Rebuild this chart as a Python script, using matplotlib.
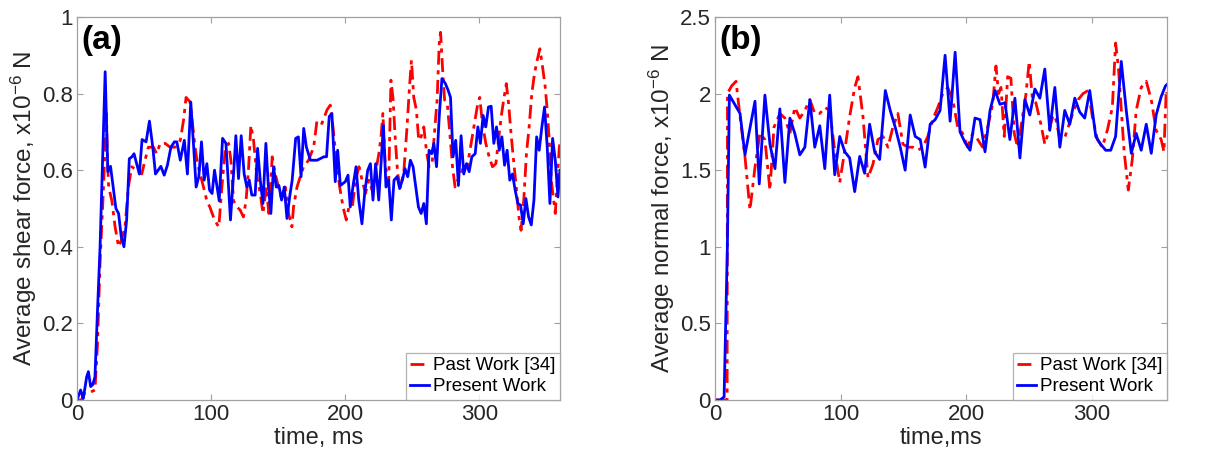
import matplotlib
matplotlib.use("Agg")
import matplotlib.pyplot as plt
from matplotlib.ticker import FuncFormatter

# ---------------------------------------------------------------------------
# data (time in ms, force in 1e-6 N)
# ---------------------------------------------------------------------------

# (a) shear force, present work
t_shear_present = [0, 2.7, 4.7, 7.2, 8.5, 10.2, 11.7, 13.4, 15.2, 17.2, 21, 23, 25, 27, 29,
                   31, 33, 35, 37, 39, 41, 42.5, 44.5, 46.5, 48.5, 51.5, 54, 56.5, 58.5, 60.5,
                   62.5, 65, 67.4, 70, 72.6, 74.4, 77, 80, 82.3, 84.8, 86.8, 88.8, 90.8, 92.8,
                   94.8, 96.8, 98.8, 100.7, 102.5, 104, 106, 108.5, 111, 112.4, 114.4, 116.7,
                   118.4, 120.4, 122.4, 124.6, 126.6, 128.4, 130.3, 132.8, 134.6, 136.6, 138.6,
                   140.8, 142.5, 144.5, 146.5, 148.5, 150.5, 152.5, 154.5, 156.5, 158.5, 160.4,
                   163, 165, 167, 169, 171, 174, 179, 184, 186, 188, 190, 192.5, 194.3, 196.3,
                   200, 202, 203.7, 206, 208, 210, 212.4, 214.4, 216.7, 218.7, 220.6, 222.6,
                   224.9, 226.6, 228.4, 230.3, 232.3, 234.3, 236.3, 238.6, 240.5, 242.5, 244.5,
                   246.5, 248.5, 250.5, 252.5, 254.5, 256.5, 258.5, 260.4, 262.4, 264.4, 266,
                   268, 270, 272, 274.6, 276.6, 278.4, 280.3, 282.3, 284.3, 286.3, 288.3, 290.3,
                   292.3, 294.3, 296.8, 298.8, 300.7, 302.7, 304.7, 306.7, 308.7, 310.7, 312.7,
                   314.7, 316.7, 318.7, 320.6, 322.6, 324.6, 326.6, 328.6, 330.6, 332.6, 334.6,
                   336.6, 338.6, 340.6, 342.6, 344.5, 346.5, 348.5, 350.5, 352.5, 354.5, 356.5,
                   358.5, 360]
f_shear_present = [0, 0.026, 0.004, 0.06, 0.074, 0.035, 0.04, 0.06, 0.226, 0.4, 0.857, 0.596,
                   0.61, 0.556, 0.5, 0.487, 0.426, 0.4, 0.47, 0.63, 0.635, 0.643, 0.617, 0.59,
                   0.68, 0.674, 0.728, 0.66, 0.59, 0.6, 0.61, 0.587, 0.613, 0.66, 0.674, 0.674,
                   0.626, 0.678, 0.59, 0.778, 0.67, 0.556, 0.583, 0.674, 0.574, 0.617, 0.548,
                   0.539, 0.6, 0.565, 0.52, 0.683, 0.67, 0.59, 0.47, 0.59, 0.69, 0.578, 0.69,
                   0.59, 0.556, 0.574, 0.535, 0.535, 0.657, 0.574, 0.513, 0.67, 0.565, 0.487,
                   0.609, 0.556, 0.56, 0.522, 0.556, 0.474, 0.53, 0.574, 0.683, 0.687, 0.583,
                   0.709, 0.66, 0.626, 0.626, 0.635, 0.635, 0.74, 0.748, 0.57, 0.652, 0.56,
                   0.57, 0.587, 0.504, 0.565, 0.609, 0.522, 0.46, 0.539, 0.6, 0.617, 0.522,
                   0.617, 0.522, 0.617, 0.717, 0.556, 0.574, 0.47, 0.574, 0.583, 0.552, 0.574,
                   0.604, 0.583, 0.626, 0.609, 0.556, 0.504, 0.487, 0.513, 0.46, 0.652, 0.643,
                   0.67, 0.609, 0.74, 0.839, 0.826, 0.809, 0.79, 0.635, 0.678, 0.56, 0.69, 0.59,
                   0.617, 0.596, 0.635, 0.643, 0.713, 0.67, 0.743, 0.713, 0.765, 0.767, 0.67,
                   0.713, 0.652, 0.687, 0.613, 0.652, 0.574, 0.59, 0.548, 0.513, 0.509, 0.46,
                   0.526, 0.478, 0.457, 0.522, 0.687, 0.652, 0.713, 0.765, 0.66, 0.513, 0.683,
                   0.626, 0.53, 0.6]

# (a) shear force, past work [34]
t_shear_past = [0, 3.5, 4.7, 7.2, 9.7, 13.4, 15.2, 17.2, 19.3, 22, 22.5, 23.6, 26, 28.4, 31,
                33, 35.8, 38.3, 40.8, 44.5, 48.3, 50.7, 53.2, 57, 59.4, 62, 65.7, 69.4, 73, 77,
                79.4, 81.3, 84.3, 86.3, 88, 89.8, 91.8, 94.3, 96.8, 99, 101.7, 104.2, 105.7,
                108, 110.4, 113, 114.7, 116.7, 119.2, 121.6, 124, 126, 127.8, 129.6, 131.6,
                134.1, 136.6, 138.6, 141.1, 143, 145.5, 147.8, 150.2, 152.7, 155.2, 157.7,
                160.2, 161.4, 164, 166.4, 168.9, 172.6, 176.4, 178.9, 182.6, 186.3, 188.8,
                190.8, 193.3, 195.8, 198.3, 200.7, 202.7, 205.2, 207.7, 210.2, 212.5, 215,
                217.5, 220, 222.4, 225, 226.6, 228, 229.8, 232.3, 234, 235.5, 237.3, 239,
                241, 243.5, 246, 248, 249.3, 251, 253, 254.7, 256.5, 258.5, 260.4, 262.4,
                264.7, 266.4, 268.4, 270.1, 271, 272.4, 274, 276, 277.9, 279.9, 281.8, 283.8,
                285.8, 288.3, 290.8, 293.3, 295.8, 298.3, 300.2, 302.2, 304.7, 307.2, 309.7,
                312.2, 314.2, 316.2, 318, 320, 321.7, 323.5, 325.4, 327.4, 329.4, 331, 333,
                335, 337, 339, 341, 343, 345, 347, 349, 350.5, 352, 353.5, 355, 356.5, 358,
                359.5, 360]
f_shear_past = [0, 0.0, 0.017, 0.017, 0.02, 0.026, 0.14, 0.36, 0.52, 0.748, 0.65, 0.556, 0.52,
                0.452, 0.4, 0.417, 0.452, 0.556, 0.609, 0.6, 0.59, 0.626, 0.66, 0.66, 0.643,
                0.67, 0.67, 0.66, 0.66, 0.678, 0.73, 0.79, 0.778, 0.713, 0.66, 0.617, 0.59,
                0.556, 0.52, 0.504, 0.478, 0.46, 0.452, 0.556, 0.652, 0.67, 0.626, 0.52, 0.504,
                0.496, 0.478, 0.52, 0.6, 0.717, 0.678, 0.583, 0.539, 0.487, 0.556, 0.487,
                0.635, 0.59, 0.556, 0.522, 0.556, 0.487, 0.452, 0.504, 0.556, 0.583, 0.609,
                0.626, 0.66, 0.73, 0.722, 0.757, 0.77, 0.713, 0.626, 0.556, 0.504, 0.47, 0.504,
                0.504, 0.574, 0.609, 0.574, 0.539, 0.574, 0.548, 0.591, 0.643, 0.687, 0.748,
                0.609, 0.565, 0.835, 0.79, 0.678, 0.591, 0.556, 0.591, 0.713, 0.826, 0.887,
                0.79, 0.757, 0.678, 0.687, 0.713, 0.652, 0.609, 0.617, 0.696, 0.783, 0.939,
                0.96, 0.87, 0.783, 0.774, 0.696, 0.609, 0.556, 0.574, 0.59, 0.609, 0.609,
                0.66, 0.713, 0.765, 0.79, 0.722, 0.67, 0.635, 0.609, 0.617, 0.678, 0.74,
                0.783, 0.826, 0.774, 0.696, 0.626, 0.556, 0.478, 0.443, 0.522, 0.643, 0.713,
                0.8, 0.852, 0.887, 0.917, 0.87, 0.817, 0.757, 0.678, 0.574, 0.53, 0.487,
                0.574, 0.66, 0.67]

# (b) normal force, present work
t_normal_present = [0, 4, 7.2, 9.8, 11.4, 19.9, 23.8, 31.8, 35.2, 39.7, 43.7, 47.7, 51.6, 55.6,
                    59.6, 63.5, 67.5, 71.5, 75.5, 79.4, 83.4, 87.4, 91.3, 95.3, 99.3, 103.3,
                    107.2, 111.2, 115.2, 119.1, 123.1, 127.1, 131.1, 135.6, 139.5, 143.5, 147.5,
                    151.4, 155.4, 159.4, 163.4, 167.3, 171.3, 175.3, 179.2, 183.2, 187.2, 191.2,
                    195.1, 199.1, 203.1, 207, 211, 215, 219, 223, 226.9, 230.9, 234.8, 238.8,
                    242.8, 246.8, 250.7, 254.7, 258.7, 262.6, 266.6, 270.6, 274.6, 278.5, 282.5,
                    286.5, 290.4, 294.4, 298.4, 303.2, 307.1, 311.1, 315.1, 319, 323.5, 327.5,
                    331.5, 335.4, 339.4, 343.4, 347.4, 351.3, 355.3, 358.7, 360]
f_normal_present = [0, 0, 0.02, 1.0, 1.99, 1.87, 1.60, 1.95, 1.41, 1.99, 1.67, 1.51, 1.90, 1.42,
                    1.84, 1.74, 1.60, 1.65, 1.96, 1.65, 1.79, 1.51, 1.99, 1.47, 1.72, 1.62,
                    1.58, 1.36, 1.59, 1.48, 1.80, 1.62, 1.57, 2.02, 1.89, 1.78, 1.65, 1.50,
                    1.86, 1.72, 1.70, 1.52, 1.80, 1.83, 1.89, 2.25, 1.82, 2.27, 1.75, 1.68,
                    1.63, 1.84, 1.83, 1.62, 1.89, 2.02, 1.93, 1.94, 1.70, 1.97, 1.58, 1.96,
                    1.86, 2.03, 1.97, 2.16, 1.76, 2.04, 1.65, 1.89, 1.80, 1.97, 1.88, 1.84,
                    2.02, 1.72, 1.67, 1.63, 1.63, 1.72, 2.21, 1.89, 1.61, 1.74, 1.63, 1.80,
                    1.61, 1.86, 1.98, 2.05, 2.06]

# (b) normal force, past work [34]
t_normal_past = [0, 9.6, 9.9, 13.2, 16.7, 19.9, 23.8, 27.8, 31.8, 35.7, 39.7, 43.7, 46.9, 51.6,
                 55.6, 59.6, 63.5, 67.5, 71.5, 75.5, 79.4, 83.4, 87.4, 91.3, 95.3, 99.3, 103.3,
                 107.2, 111.2, 113.8, 117.8, 121.8, 125.8, 129.7, 133.7, 137.7, 141.6, 145.6,
                 149.6, 153.6, 157.5, 161.5, 165.5, 169.4, 173.4, 177.4, 181.4, 185.3, 189.3,
                 193.3, 197.2, 201.2, 205.2, 209.2, 213.1, 217.1, 221.1, 223.7, 225.8, 227.7,
                 230.3, 233, 235.6, 238.3, 240.9, 243.6, 247.5, 250.2, 252.8, 255.5, 259.5,
                 262.6, 266, 269.3, 271.5, 274.6, 278, 281.2, 285.2, 289.1, 293.1, 297.1,
                 300.5, 304.5, 308.4, 312.4, 316.4, 319, 321.2, 323, 325.7, 329.1, 332.3,
                 335.4, 339.4, 343.4, 347.4, 351.3, 355.3, 357.5, 359.3, 360]
f_normal_past = [0, 0, 2.0, 2.05, 2.08, 1.85, 1.59, 1.24, 1.52, 1.74, 1.70, 1.37, 1.78, 1.87,
                 1.84, 1.74, 1.91, 1.84, 1.89, 1.96, 1.87, 1.87, 1.91, 1.89, 1.63, 1.42, 1.63,
                 1.85, 2.04, 2.11, 1.85, 1.45, 1.54, 1.70, 1.72, 1.65, 1.78, 1.87, 1.67, 1.65,
                 1.65, 1.63, 1.65, 1.72, 1.83, 1.91, 2.0, 2.04, 1.96, 1.78, 1.74, 1.65, 1.74,
                 1.70, 1.65, 1.78, 1.93, 2.18, 2.0, 2.04, 1.72, 2.11, 2.10, 1.74, 1.65, 1.78,
                 1.99, 2.21, 1.96, 1.94, 1.80, 1.67, 1.76, 1.86, 1.83, 1.70, 1.70, 1.78, 1.88,
                 1.96, 2.0, 2.02, 1.85, 1.70, 1.65, 1.76, 1.91, 2.33, 2.17, 1.96, 1.63, 1.37,
                 1.57, 1.89, 2.04, 2.08, 1.96, 1.76, 1.70, 1.62, 2.02, 2.0]

legend_labels = ["Past Work [34]", "Present Work"]

# ---------------------------------------------------------------------------

plt.rcParams["font.family"] = ["Liberation Sans", "DejaVu Sans"]
plt.rcParams["mathtext.fontset"] = "custom"
plt.rcParams["mathtext.rm"] = "Liberation Sans"
plt.rcParams["mathtext.it"] = "Liberation Sans:italic"
plt.rcParams["mathtext.bf"] = "Liberation Sans:bold"

TEXT = "#262626"
EDGE = "#a0a0a0"


def _style(ax, xlim, ylim, yticks):
    ax.set_xlim(*xlim)
    ax.set_ylim(*ylim)
    ax.set_xticks([0, 100, 200, 300])
    ax.set_yticks(yticks)
    ax.yaxis.set_major_formatter(FuncFormatter(lambda v, p: f"{v:g}"))
    ax.tick_params(direction="in", top=True, right=True, length=4, width=0.8,
                   color=EDGE, labelcolor=TEXT, labelsize=16, pad=3)
    for s in ax.spines.values():
        s.set_color(EDGE)
        s.set_linewidth(0.9)


def _panel(ax, t_past, f_past, t_pres, f_pres, ylabel, xlabel, tag, ylim, yticks):
    ax.plot(t_past, f_past, color="red", linestyle=(0, (5, 2, 1.5, 2)), linewidth=2.0,
            label=legend_labels[0])
    ax.plot(t_pres, f_pres, color="blue", linestyle="-", linewidth=2.0, label=legend_labels[1])
    _style(ax, (0, 360), ylim, yticks)
    ax.set_ylabel(ylabel, fontsize=17.5, color=TEXT, labelpad=2)
    ax.set_xlabel(xlabel, fontsize=17, color=TEXT, labelpad=1)
    ax.text(0.01, 0.98, tag, transform=ax.transAxes, ha="left", va="top",
            fontsize=24, fontweight="bold", color="black")
    leg = ax.legend(loc="lower right", fontsize=13.5, frameon=True, fancybox=False,
                    borderpad=0.25, handlelength=1.0, handletextpad=0.2,
                    labelspacing=0.2, borderaxespad=0.0)
    leg.get_frame().set_edgecolor(EDGE)
    leg.get_frame().set_linewidth(0.9)
    for txt in leg.get_texts():
        txt.set_color("black")


fig = plt.figure(figsize=(12.24, 4.65), dpi=100)
ax_a = fig.add_axes([0.0629, 0.1398, 0.3946, 0.8237])
ax_b = fig.add_axes([0.5842, 0.1398, 0.3693, 0.8237])

_panel(ax_a, t_shear_past, f_shear_past, t_shear_present, f_shear_present,
       r"Average shear force, x10$^{-6}$ N", "time, ms", "(a)",
       (0, 1), [0, 0.2, 0.4, 0.6, 0.8, 1])
_panel(ax_b, t_normal_past, f_normal_past, t_normal_present, f_normal_present,
       r"Average normal force, x10$^{-6}$ N", "time,ms", "(b)",
       (0, 2.5), [0, 0.5, 1, 1.5, 2, 2.5])

fig.savefig("out.png", dpi=100)
